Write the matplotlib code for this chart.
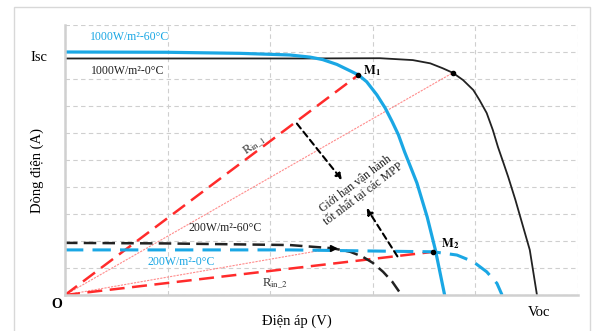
import matplotlib
matplotlib.use("Agg")
import matplotlib.pyplot as plt
from matplotlib.patches import Rectangle

plt.rcParams['font.family'] = ['Liberation Serif', 'DejaVu Serif']
plt.rcParams['mathtext.fontset'] = 'stix'

# ---- data (x: voltage units, y: current units) ----
v_1000_0 = [0, 2.29, 3.07, 3.39, 3.56, 3.68, 3.78, 3.88, 3.98, 4.04, 4.11, 4.17,
            4.22, 4.27, 4.32, 4.39, 4.53, 4.60]
i_1000_0 = [8.76, 8.76, 8.77, 8.70, 8.58, 8.40, 8.23, 7.96, 7.59, 7.22, 6.74, 6.11,
            5.48, 4.93, 4.37, 3.52, 1.67, 0.0]

v_1000_60 = [0, 0.99, 1.71, 2.19, 2.39, 2.51, 2.65, 2.78, 2.86, 2.94, 3.04, 3.12,
             3.19, 3.25, 3.31, 3.38, 3.43, 3.53, 3.61, 3.70]
i_1000_60 = [9.0, 8.99, 8.95, 8.89, 8.81, 8.72, 8.54, 8.30, 8.15, 7.90, 7.41, 6.93,
             6.41, 5.93, 5.30, 4.63, 4.15, 2.89, 1.67, 0.0]

v_200_60 = [0, 0.99, 2.19, 2.61, 2.78, 2.90, 3.00, 3.10, 3.19, 3.28]
i_200_60 = [1.93, 1.91, 1.85, 1.73, 1.60, 1.42, 1.19, 0.86, 0.49, 0.0]

v_200_0 = [0, 2.19, 3.59, 3.82, 3.98, 4.11, 4.21, 4.26]
i_200_0 = [1.67, 1.67, 1.60, 1.48, 1.23, 0.86, 0.43, 0.0]

mpp_M1 = (2.86, 8.15)
mpp_M2 = (3.59, 1.60)
mpp_1000_0 = (3.78, 8.23)
mpp_200_60 = (2.61, 1.73)

arrow1 = ((2.26, 6.35), (2.70, 4.26))
arrow2 = ((3.24, 1.43), (2.94, 3.22))

label_1000_60 = "1000W/m²-60°C"
label_1000_0 = "1000W/m²-0°C"
label_200_60 = "200W/m²-60°C"
label_200_0 = "200W/m²-0°C"
xlabel = "Điện áp (V)"
ylabel = "Dòng điện (A)"
note = "Giới hạn vận hành\ntốt nhất tại các MPP"

BLUE = '#1aa7e4'
RED = '#ff2b2b'
PINK = '#ff8c8c'

fig = plt.figure(figsize=(6.05, 3.31), dpi=100)
fig.patches.append(Rectangle((14/605, -0.05), (590-14)/605, (331-7)/331 + 0.05,
                             transform=fig.transFigure, fill=False,
                             edgecolor='#d8d8d8', lw=1.0))
ax = fig.add_axes([65/605, 36/331, (578-65)/605, (295-25)/331])
ax.set_xlim(0, 5)
ax.set_ylim(0, 10)
ax.set_xticks(range(0, 6))
ax.set_yticks(range(0, 11))
ax.tick_params(length=0, labelbottom=False, labelleft=False)
ax.grid(True, color='#cfcfcf', linestyle=(0, (4, 3)), lw=0.8)
for s in ['top', 'right']:
    ax.spines[s].set_visible(False)
for s in ['left', 'bottom']:
    ax.spines[s].set_color('#d0d0d0')
    ax.spines[s].set_linewidth(1.8)
ax.set_axisbelow(True)

# thin pink lines
ax.plot([0, mpp_1000_0[0]], [0, mpp_1000_0[1]], color=PINK, lw=0.8, linestyle=(0, (2, 1)))
ax.plot([0, mpp_200_60[0]], [0, mpp_200_60[1]], color=PINK, lw=0.8, linestyle=(0, (2, 1)))
# red load lines
ax.plot([0, mpp_M1[0]], [0, mpp_M1[1]], color=RED, lw=1.8, linestyle=(0, (6, 3)))
ax.plot([0, mpp_M2[0]], [0, mpp_M2[1]], color=RED, lw=1.8, linestyle=(0, (6, 3)))

# IV curves
ax.plot(v_1000_0, i_1000_0, color='#222222', lw=1.3, solid_joinstyle='round')
ax.plot(v_1000_60, i_1000_60, color=BLUE, lw=2.3, solid_joinstyle='round')
ax.plot(v_200_60, i_200_60, color='#222222', lw=1.8, linestyle=(0, (5, 2.5)))
ax.plot(v_200_0, i_200_0, color=BLUE, lw=2.2, linestyle=(0, (6, 3)))

# points
for p in (mpp_M1, mpp_M2, mpp_1000_0):
    ax.plot(p[0], p[1], 'o', color='black', ms=3, zorder=5)
ax.plot(mpp_200_60[0], mpp_200_60[1], '>', color='black', ms=4, zorder=5)

# arrows
for (s, e) in (arrow1, arrow2):
    ax.annotate('', xy=e, xytext=s,
                arrowprops=dict(arrowstyle='-|>', color='black', lw=1.5,
                                linestyle=(0, (3, 2)), mutation_scale=9,
                                shrinkA=0, shrinkB=0))

# texts
ax.text(0.24, 9.56, label_1000_60, color=BLUE, fontsize=8.5, va='center', ha='left')
ax.text(0.25, 8.3, label_1000_0, color='#222222', fontsize=8.5, va='center', ha='left')
ax.text(1.2, 2.48, label_200_60, color='#222222', fontsize=8.5, va='center', ha='left')
ax.text(0.8, 1.22, label_200_0, color=BLUE, fontsize=8.5, va='center', ha='left')
ax.text(2.9, 8.3, r"$\mathbf{M_1}$", fontsize=9, va='center', ha='left')
ax.text(3.66, 1.92, r"$\mathbf{M_2}$", fontsize=9, va='center', ha='left')
ax.text(1.85, 5.56, r"R$_{\rm in\_1}$", fontsize=9, va='center', ha='center', rotation=35,
        color='#333333')
ax.text(1.92, 0.45, r"R$_{\rm in\_2}$", fontsize=9, va='center', ha='left', color='#333333')
ax.text(2.87, 3.93, note, fontsize=8.5, va='center', ha='center', rotation=37,
        multialignment='center', color='#222222', linespacing=1.1)

ax.text(-0.34, 8.8, "Isc", fontsize=10.5, va='center', ha='left', clip_on=False)
ax.text(-0.08, -0.37, "O", fontsize=10, fontweight='bold', va='center', ha='center', clip_on=False)
ax.text(4.62, -0.63, "Voc", fontsize=10.5, va='center', ha='center', clip_on=False)
ax.text(2.26, -0.97, xlabel, fontsize=10.5, va='center', ha='center', clip_on=False)
ax.text(-0.275, 4.6, ylabel, fontsize=10.5, va='center', ha='center', rotation=90, clip_on=False)

fig.savefig('out.png', dpi=100)
